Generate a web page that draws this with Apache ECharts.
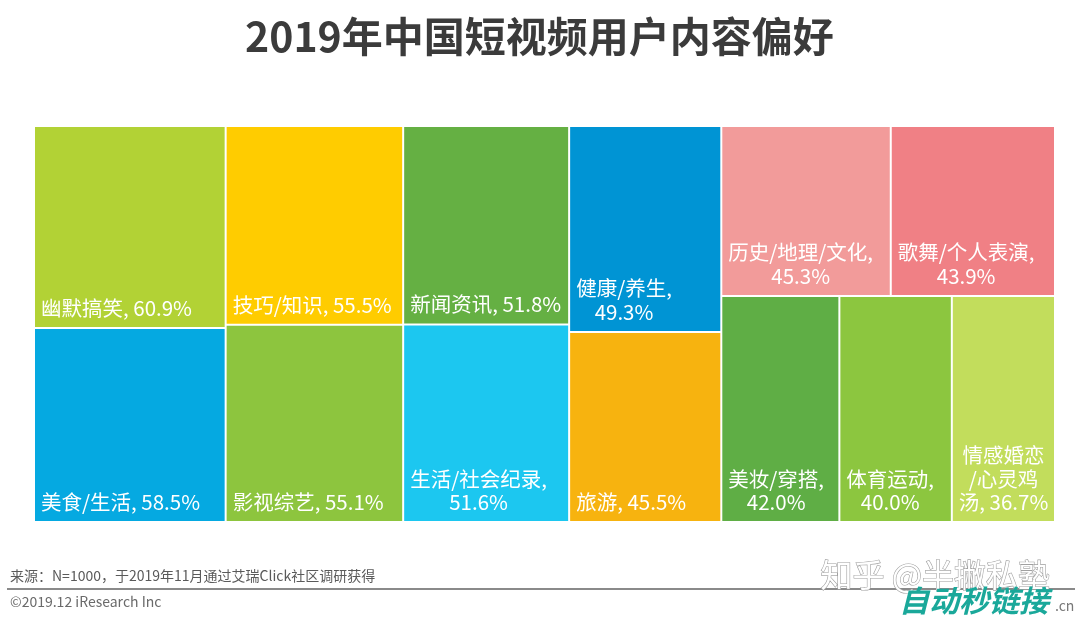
<!DOCTYPE html>
<html>
<head>
<meta charset="utf-8">
<script src="https://cdn.jsdelivr.net/npm/echarts@6/dist/echarts.min.js"></script>
<style>
html,body{margin:0;padding:0;background:#fff;}
#chart{width:1080px;height:626px;}
</style>
</head>
<body>
<div id="chart"></div>
<script>
// ---- data ----
const titleText = '2019年中国短视频用户内容偏好';
const names = ['幽默搞笑','美食/生活','技巧/知识','影视综艺','新闻资讯','生活/社会纪录','健康/养生','旅游','历史/地理/文化','歌舞/个人表演','美妆/穿搭','体育运动','情感婚恋/心灵鸡汤'];
const values = [60.9, 58.5, 55.5, 55.1, 51.8, 51.6, 49.3, 45.5, 45.3, 43.9, 42.0, 40.0, 36.7];
// how each label is wrapped in the picture
const labelNames = ['幽默搞笑','美食/生活','技巧/知识','影视综艺','新闻资讯','生活/社会纪录','健康/养生','旅游','历史/地理/文化','歌舞/个人表演','美妆/穿搭','体育运动','情感婚恋\n/心灵鸡\n汤'];
const labelSeps = [', ', ', ', ', ', ', ', ', ', ',\n', ',\n', ', ', ',\n', ',\n', ',\n', ',\n', ', '];
// grouping of the tiles (indices into names)
const groups = [[0, 1], [2, 3], [4, 5], [6, 7], [[8, 9], [[10, 11], 12]]];
const sourceNote = '来源：N=1000，于2019年11月通过艾瑞Click社区调研获得';
const copyright = '©2019.12 iResearch Inc';

// ---- styles ----
const colors = ['#b2d235','#05a9e1','#ffcc00','#8dc53e','#65b043','#1cc7f0','#0094d4','#f7b30f','#f29b9a','#f08085','#5fae45','#8cc63f','#c2dd5c'];
const FONT = '"Noto Sans CJK SC", "Microsoft YaHei", sans-serif';

function leaf(i) {
  return { name: names[i], value: values[i], itemStyle: { color: colors[i] } };
}
function build(g) {
  if (typeof g === 'number') return leaf(g);
  const children = g.map(build);
  const v = children.reduce((s, c) => s + c.value, 0);
  return { name: '', value: v, children: children };
}
const treeData = groups.map(build);

const chart = echarts.init(document.getElementById('chart'));

const staticGraphics = [
  { id: 'src', type: 'text', left: 10, top: 569, style: { text: sourceNote, fontSize: 14, fill: '#5a5a5a', fontFamily: FONT } },
  { id: 'rule', type: 'rect', shape: { x: 7, y: 588, width: 1068, height: 2 }, style: { fill: '#8a8a8a' } },
  { id: 'copy', type: 'text', left: 10, top: 595, style: { text: copyright, fontSize: 14, fill: '#6a6a6a', fontFamily: FONT } },
  { id: 'wm1', type: 'text', left: 820, top: 558, style: { text: '知乎 @半撇私塾', fontSize: 32, fill: '#ffffff', stroke: '#a0a0a0', lineWidth: 1.2, fontFamily: FONT } },
  { id: 'wm2', type: 'text', left: 899, top: 586, style: { text: '自动秒链接', fontSize: 30, fontWeight: 'bold', fontStyle: 'italic', fill: '#1aa89a', fontFamily: FONT } },
  { id: 'wm3', type: 'text', left: 1055, top: 599, style: { text: '.cn', fontSize: 14, fill: '#777', fontFamily: FONT } }
];

chart.setOption({
  backgroundColor: '#ffffff',
  animation: false,
  title: {
    text: titleText,
    left: 240,
    top: 11,
    textStyle: { fontSize: 41, fontWeight: 'bold', color: '#3b3b3b', fontFamily: FONT }
  },
  series: [{
    type: 'treemap',
    left: 35, top: 127, right: 26, bottom: 105,
    sort: false,
    squareRatio: 0.001,
    roam: false,
    nodeClick: false,
    breadcrumb: { show: false },
    visibleMin: 0,
    upperLabel: { show: false },
    itemStyle: { borderWidth: 0, gapWidth: 2, borderColor: '#fff' },
    levels: [
      { itemStyle: { borderWidth: 0, gapWidth: 2, borderColor: '#fff' } },
      { itemStyle: { borderWidth: 0, gapWidth: 2, borderColor: '#fff' } },
      { itemStyle: { borderWidth: 0, gapWidth: 2, borderColor: '#fff' } },
      { itemStyle: { borderWidth: 0, gapWidth: 2, borderColor: '#fff' } },
      { itemStyle: { borderWidth: 0, gapWidth: 2, borderColor: '#fff' } }
    ],
    label: { show: false },
    emphasis: { disabled: true },
    data: treeData
  }],
  graphic: staticGraphics
});

// Labels: anchored at the bottom-left of each tile laid out by the treemap,
// lines centred on each other (as in the source chart).
function labelGraphics() {
  const out = [];
  const sm = chart.getModel().getSeriesByIndex(0);
  const info = sm.layoutInfo;
  const tree = sm.getData().tree;
  tree.root.eachNode(function (node) {
    if (node.children && node.children.length) return;
    const i = names.indexOf(node.name);
    if (i < 0) return;
    let ax = info.x, ay = info.y;
    for (let n = node; n; n = n.parentNode) {
      const l = n.getLayout();
      if (l) { ax += l.x || 0; ay += l.y || 0; }
    }
    const lay = node.getLayout();
    const txt = labelNames[i] + labelSeps[i] + values[i].toFixed(1) + '%';
    out.push({
      id: 'lbl' + i,
      type: 'text',
      x: ax + 6,
      y: ay + lay.height - 7,
      z: 10,
      style: {
        text: txt.split('\n').map(function (l) { return '{c|' + l + '}'; }).join('\n'),
        align: 'left',
        verticalAlign: 'bottom',
        rich: { c: { align: 'center', fill: '#ffffff', color: '#ffffff', fontSize: 20.5, lineHeight: 23.5, fontFamily: FONT } }
      }
    });
  });
  return out;
}

try {
  chart.setOption({ graphic: staticGraphics.concat(labelGraphics()) });
} catch (e) {
  chart.setOption({ series: [{ label: { show: true, position: 'insideTopLeft', color: '#fff', fontSize: 20, formatter: function (p) { const i = names.indexOf(p.name); return i < 0 ? '' : names[i] + ', ' + values[i].toFixed(1) + '%'; } } }] });
}
</script>
</body>
</html>
